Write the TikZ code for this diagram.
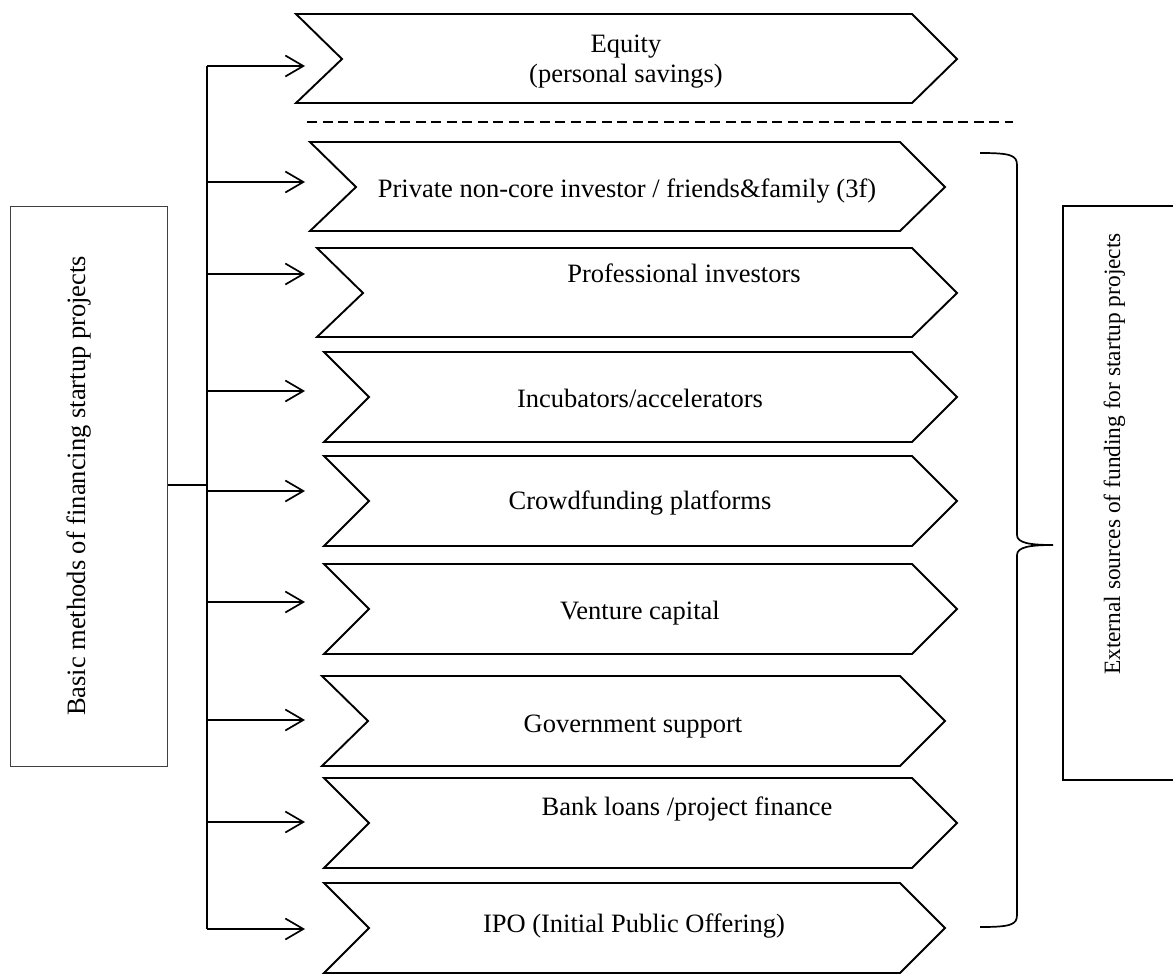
\documentclass[tikz,border=0pt]{standalone}
\usepackage{fontspec}
\setmainfont{Liberation Serif}
\usetikzlibrary{arrows.meta}
\newcommand{\mychev}[7]{%
  \draw[chev] (#1,#5) -- (#3,#5) -- (#4,#7) -- (#3,#6) -- (#1,#6) -- (#2,#7) -- cycle;}
\begin{document}
\begin{tikzpicture}[x=1pt,y=-1pt,
  chev/.style={draw=black, line width=1.9pt, line join=miter},
  lbl/.style={anchor=base, font=\fontsize{26.5}{30}\selectfont, inner sep=0pt},
  conn/.style={draw=black, line width=1.7pt},
  arr/.style={conn, -{Straight Barb[length=18pt,width=21pt]}},
  boxl/.style={draw=black!75, line width=1pt, inner sep=0pt},
  boxr/.style={draw=black, line width=1.7pt, inner sep=0pt},
]
\useasboundingbox (0,0) rectangle (1173,974);
\begin{scope}
\clip (0,0) rectangle (1173,974);

% chevrons: left, notch, shoulder, tip, top, bottom, mid
\mychev{296}{342}{912}{957}{14}{103}{59}
\mychev{310}{356}{900}{945}{142}{231}{187}
\mychev{317}{363}{912}{957}{248}{337}{293}
\mychev{324}{369}{912}{957}{352}{442}{397}
\mychev{324}{369}{912}{957}{456}{546}{501}
\mychev{324}{369}{912}{957}{564}{654}{609}
\mychev{322}{368}{900}{945}{676}{766}{721}
\mychev{324}{369}{912}{957}{778}{868}{823}
\mychev{324}{369}{900}{945}{883}{973}{928}

% labels
\node[lbl] (equity) at (626,53) {Equity};
\node[lbl] (savings) at (626,83) {(personal savings)};
\node[lbl] (private) at (627,197) {Private non-core investor / friends\&family (3f)};
\node[lbl] (prof) at (684,282) {Professional investors};
\node[lbl] (incub) at (640,407) {Incubators/accelerators};
\node[lbl] (crowd) at (640,509) {Crowdfunding platforms};
\node[lbl] (venture) at (640,619) {Venture capital};
\node[lbl] (gov) at (633,732) {Government support};
\node[lbl] (bank) at (687,815) {Bank loans /project finance};
\node[lbl] (ipo) at (634,932) {IPO (Initial Public Offering)};

% dashed separator
\coordinate (d1) at (307,122);
\coordinate (d2) at (1013,122);
\draw[line width=1.5pt, dash pattern=on 10pt off 5.5pt] (d1) -- (d2);

% left box
\node[boxl, minimum width=157pt, minimum height=560pt] (lbox) at (88.5,486) {};
\node[lbl, rotate=90] (ltxt) at (85,486) {Basic methods of financing startup projects};

% right box
\node[boxr, minimum width=140pt, minimum height=574pt] (rbox) at (1133,493) {};
\node[anchor=base, rotate=90, inner sep=0pt, font=\fontsize{23.4}{28}\selectfont] (rtxt) at (1120,454) {External sources of funding for startup projects};

% bus and arrows
\coordinate (b1) at (207,66);  \coordinate (t1) at (305,66);
\coordinate (b2) at (207,182); \coordinate (t2) at (305,182);
\coordinate (b3) at (207,274); \coordinate (t3) at (305,274);
\coordinate (b4) at (207,391); \coordinate (t4) at (305,391);
\coordinate (b5) at (207,491); \coordinate (t5) at (305,491);
\coordinate (b6) at (207,602); \coordinate (t6) at (305,602);
\coordinate (b7) at (207,720); \coordinate (t7) at (305,720);
\coordinate (b8) at (207,822); \coordinate (t8) at (305,822);
\coordinate (b9) at (207,929); \coordinate (t9) at (305,929);
\coordinate (bk) at (207,485);
\draw[conn] (b1) -- (b9);
\draw[conn] (lbox.east |- bk) -- (bk);
\foreach \i in {1,...,9} { \draw[arr] (b\i) -- (t\i); }

% brace
\coordinate (brtop) at (980,153);
\coordinate (brtip) at (1053,545);
\coordinate (brbot) at (980,927);
\draw[line width=1.7pt] (brtop) .. controls (1010,153) and (1017,155) .. (1017,165)
  -- (1017,535) .. controls (1017,543) and (1030,545) .. (brtip)
  .. controls (1030,545) and (1017,547) .. (1017,555)
  -- (1017,915) .. controls (1017,925) and (1010,927) .. (brbot);
\end{scope}
\end{tikzpicture}
\end{document}
